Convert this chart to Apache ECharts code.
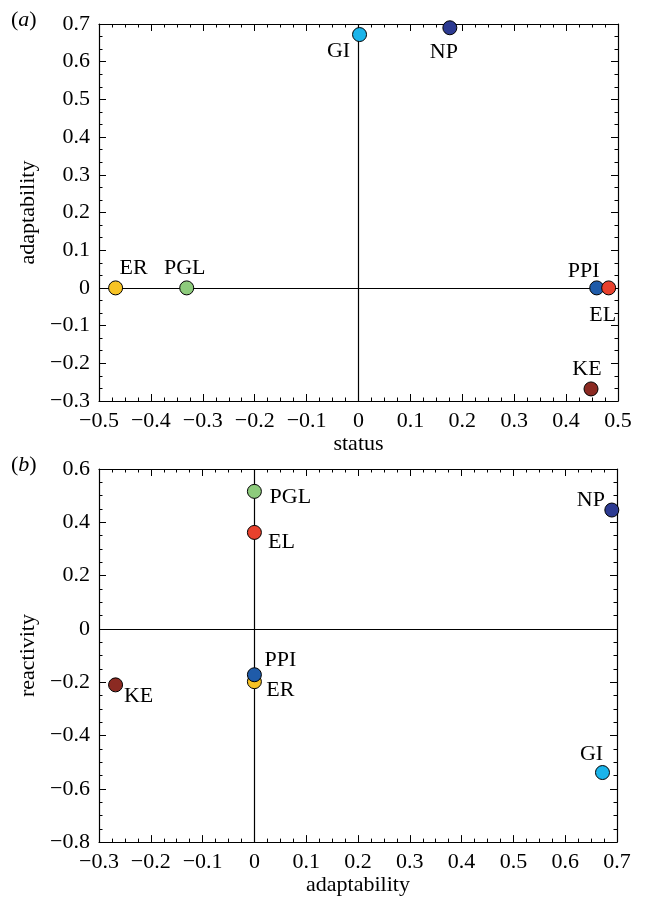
<!DOCTYPE html>
<html>
<head>
<meta charset="utf-8">
<script src="https://cdn.jsdelivr.net/npm/echarts@6/dist/echarts.min.js"></script>
<style>
html,body{margin:0;padding:0;background:#fff;}
#chart{width:645px;height:897px;}
</style>
</head>
<body>
<div id="chart"></div>
<script>
// ---- data ----
const names = ['ER', 'PGL', 'GI', 'NP', 'PPI', 'EL', 'KE'];
const colors = ['#F7C325', '#8DCB7C', '#1AB4EA', '#2C3A91', '#1F5BA9', '#E8412D', '#8B2A22'];
const status = [-0.468, -0.331, 0.002, 0.176, 0.459, 0.482, 0.448];
const adaptability = [0, 0, 0.672, 0.69, 0, 0, -0.268];
const reactivity = [-0.198, 0.516, -0.539, 0.446, -0.172, 0.362, -0.21];

const xTicksA = { min: -0.5, max: 0.5, interval: 0.1 };
const yTicksA = { min: -0.3, max: 0.7, interval: 0.1 };
const xTicksB = { min: -0.3, max: 0.7, interval: 0.1 };
const yTicksB = { min: -0.8, max: 0.6, interval: 0.2 };

// label offsets (style, relative to point centre)
const offA = [[18, -20], [-2, -20], [-21, 17], [-6, 24], [-13, -17], [-6, 27], [-4, -20]];
const offB = [[26, 9], [36, 6], [-11, -18], [-21, -10], [26, -15], [27, 10], [23, 11]];

const FONT = "'Liberation Serif', 'Times New Roman', Times, serif";
const FS = 22;
const fmt = v => {
  const r = Math.round(v * 10) / 10;
  return (r === 0 ? '0' : String(r)).replace('-', '\u2212');
};

function axis(dim, ticks, gridIndex, opts) {
  const main = opts.main;
  return Object.assign({
    type: 'value',
    gridIndex: gridIndex,
    min: ticks.min, max: ticks.max, interval: ticks.interval,
    axisLine: { show: true, onZero: false, lineStyle: { color: '#000', width: 1.2 } },
    axisTick: { show: true, inside: true, length: 7, lineStyle: { color: '#000', width: 1 } },
    minorTick: { show: true, splitNumber: opts.minor, length: 3.5, lineStyle: { color: '#000', width: 1 } },
    splitLine: { show: false },
    minorSplitLine: { show: false },
    axisLabel: main ? { show: true, formatter: fmt, fontFamily: FONT, fontSize: FS, color: '#000', margin: 9 } : { show: false },
  }, opts.extra || {});
}

function pointSeries(xs, ys, offs, gi) {
  return {
    type: 'scatter',
    xAxisIndex: gi * 2, yAxisIndex: gi * 2,
    symbol: 'circle', symbolSize: 14,
    z: 5,
    data: names.map((n, i) => ({
      value: [xs[i], ys[i]],
      name: n,
      itemStyle: { color: colors[i], borderColor: '#000', borderWidth: 1, opacity: 1 },
      label: {
        show: true, formatter: n, position: 'inside',
        offset: offs[i], align: 'center', verticalAlign: 'middle',
        fontFamily: FONT, fontSize: FS, color: '#000',
        textBorderWidth: 0, textBorderColor: 'transparent'
      }
    })),
    emphasis: { disabled: true },
    animation: false
  };
}

function zeroLines(gi) {
  return {
    type: 'scatter', xAxisIndex: gi * 2, yAxisIndex: gi * 2, data: [], z: 1,
    markLine: {
      silent: true, symbol: 'none', animation: false,
      label: { show: false },
      lineStyle: { color: '#000', type: 'solid', width: 1.2, opacity: 1 },
      data: [{ xAxis: 0 }, { yAxis: 0 }]
    }
  };
}

const nameStyle = { fontFamily: FONT, fontSize: FS, color: '#000' };
const richLbl = { n: { fontFamily: FONT, fontSize: FS, fill: '#000' }, i: { fontFamily: FONT, fontSize: FS, fontStyle: 'italic', fill: '#000' } };

const chart = echarts.init(document.getElementById('chart'), null, { renderer: 'canvas' });
chart.setOption({
  backgroundColor: '#fff',
  animation: false,
  grid: [
    { left: 99, top: 24, width: 519, height: 377 },
    { left: 99, top: 469, width: 518, height: 375 }
  ],
  xAxis: [
    axis('x', xTicksA, 0, { main: true, minor: 4, extra: { position: 'bottom', name: 'status', nameLocation: 'middle', nameGap: 29, nameTextStyle: nameStyle } }),
    axis('x', xTicksA, 0, { main: false, minor: 4, extra: { position: 'top' } }),
    axis('x', xTicksB, 1, { main: true, minor: 4, extra: { position: 'bottom', name: 'adaptability', nameLocation: 'middle', nameGap: 31, nameTextStyle: nameStyle } }),
    axis('x', xTicksB, 1, { main: false, minor: 4, extra: { position: 'top' } })
  ],
  yAxis: [
    axis('y', yTicksA, 0, { main: true, minor: 3, extra: { position: 'left', name: 'adaptability', nameLocation: 'middle', nameGap: 56, nameRotate: 90, nameTextStyle: nameStyle } }),
    axis('y', yTicksA, 0, { main: false, minor: 3, extra: { position: 'right' } }),
    axis('y', yTicksB, 1, { main: true, minor: 4, extra: { position: 'left', name: 'reactivity', nameLocation: 'middle', nameGap: 56, nameRotate: 90, nameTextStyle: nameStyle } }),
    axis('y', yTicksB, 1, { main: false, minor: 4, extra: { position: 'right' } })
  ],
  graphic: [
    { type: 'text', left: 11, top: 9, style: { text: '{n|(}{i|a}{n|)}', rich: richLbl } },
    { type: 'text', left: 11, top: 454, style: { text: '{n|(}{i|b}{n|)}', rich: richLbl } }
  ],
  series: [
    zeroLines(0),
    pointSeries(status, adaptability, offA, 0),
    zeroLines(1),
    pointSeries(adaptability, reactivity, offB, 1)
  ]
});
</script>
</body>
</html>
